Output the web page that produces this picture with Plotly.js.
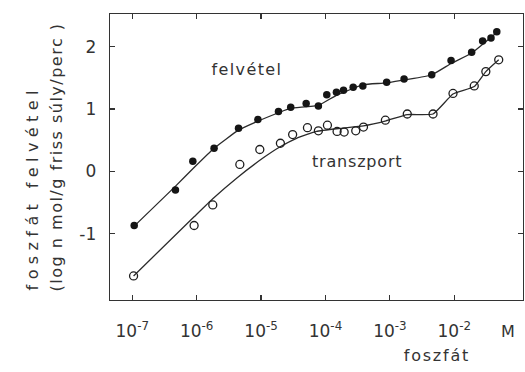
<!DOCTYPE html>
<html>
<head>
<meta charset="utf-8">
<script src="https://cdn.plot.ly/plotly-3.0.1.min.js"></script>
<style>
  html, body { margin: 0; padding: 0; background: #ffffff; }
  #chart { width: 525px; height: 372px; }
  g.annotation[data-index="0"] text { letter-spacing: 1.4px; }
  g.annotation[data-index="1"] text { letter-spacing: 0.8px; }
  g.annotation[data-index="2"] text { letter-spacing: 5.4px; }
  g.annotation[data-index="3"] text { letter-spacing: 1.5px; }
  g.annotation[data-index="5"] text { letter-spacing: 1.8px; }
</style>
</head>
<body>
<div id="chart"></div>
<script>
// log10 of phosphate concentration (M) and log uptake values
const felvetelLogC = [-6.97, -6.33, -6.06, -5.73, -5.35, -5.05, -4.73, -4.54, -4.30, -4.11, -3.98, -3.83, -3.72, -3.57, -3.42, -3.05, -2.78, -2.35, -2.05, -1.73, -1.56, -1.43, -1.34];
const felvetelVal  = [-0.87, -0.30, 0.16, 0.37, 0.69, 0.83, 0.96, 1.03, 1.09, 1.05, 1.23, 1.27, 1.30, 1.35, 1.37, 1.43, 1.48, 1.55, 1.78, 1.91, 2.09, 2.14, 2.24];

const transzportLogC = [-6.98, -6.04, -5.75, -5.33, -5.02, -4.70, -4.51, -4.28, -4.11, -3.97, -3.82, -3.71, -3.53, -3.41, -3.07, -2.73, -2.33, -2.02, -1.69, -1.51, -1.31];
const transzportVal  = [-1.68, -0.87, -0.54, 0.11, 0.35, 0.45, 0.59, 0.70, 0.65, 0.74, 0.64, 0.63, 0.65, 0.71, 0.82, 0.92, 0.92, 1.25, 1.37, 1.60, 1.79];

// fitted curves
const felvetelFitLogC = [-6.97, -6.32, -6.06, -5.73, -5.35, -5.06, -4.73, -4.55, -4.11, -3.83, -3.41, -3.05, -2.35, -2.05, -1.73, -1.34];
const felvetelFitVal  = [-0.88, -0.23, 0.04, 0.37, 0.66, 0.80, 0.94, 1.01, 1.06, 1.22, 1.39, 1.42, 1.55, 1.73, 1.90, 2.23];

const transzportFitLogC = [-6.98, -6.04, -5.75, -5.38, -4.96, -4.71, -4.45, -4.14, -3.77, -3.41, -3.06, -2.73, -2.33, -2.02, -1.69, -1.51, -1.31];
const transzportFitVal  = [-1.68, -0.73, -0.44, -0.11, 0.22, 0.39, 0.53, 0.64, 0.69, 0.73, 0.81, 0.91, 0.92, 1.24, 1.36, 1.60, 1.79];

const xTickVals = [1e-7, 1e-6, 1e-5, 1e-4, 1e-3, 1e-2];
const xTickText = ['10<sup>-7</sup>', '10<sup>-6</sup>', '10<sup>-5</sup>', '10<sup>-4</sup>', '10<sup>-3</sup>', '10<sup>-2</sup>'];
const yTickVals = [-1, 0, 1, 2];
const yTickText = ['-1', '0', '1', '2'];

const toM = a => a.map(v => Math.pow(10, v));

const ink = '#2b2b2b';
const FONT = 'DejaVu Sans, Liberation Sans, sans-serif';

const traces = [
  { x: toM(felvetelFitLogC), y: felvetelFitVal, mode: 'lines', line: { color: ink, width: 1.3, shape: 'spline', smoothing: 0.4 }, hoverinfo: 'skip', showlegend: false },
  { x: toM(transzportFitLogC), y: transzportFitVal, mode: 'lines', line: { color: ink, width: 1.3, shape: 'spline', smoothing: 0.4 }, hoverinfo: 'skip', showlegend: false },
  { x: toM(felvetelLogC), y: felvetelVal, mode: 'markers', marker: { symbol: 'circle', size: 7.5, color: '#151515' }, showlegend: false },
  { x: toM(transzportLogC), y: transzportVal, mode: 'markers', marker: { symbol: 'circle-open', size: 8, color: '#1e1e1e', line: { width: 1.3 } }, showlegend: false }
];

const axisCommon = {
  showline: true, mirror: 'all', linecolor: '#333', linewidth: 1.3,
  ticks: 'inside', ticklen: 5, tickwidth: 1.2, tickcolor: '#333',
  showgrid: false, zeroline: false
};

const layout = {
  width: 525, height: 372,
  margin: { l: 110, r: 2, t: 14, b: 72 },
  paper_bgcolor: '#ffffff', plot_bgcolor: '#ffffff',
  font: { family: FONT, color: '#333' },
  xaxis: Object.assign({}, axisCommon, {
    type: 'log', range: [-7.346, -0.933],
    tickmode: 'array', tickvals: xTickVals, ticktext: xTickText,
    tickfont: { size: 17, color: '#333' }, ticklabelstandoff: 15
  }),
  yaxis: Object.assign({}, axisCommon, {
    range: [-2.066, 2.525],
    tickmode: 'array', tickvals: yTickVals, ticktext: yTickText,
    tickfont: { size: 17, color: '#333' }, ticklabelstandoff: 9
  }),
  annotations: [
    { text: 'felvétel', xref: 'x', yref: 'y', x: -5.22, y: 1.63, showarrow: false, xanchor: 'center', yanchor: 'middle', font: { size: 16, color: '#333' } },
    { text: 'transzport', xref: 'x', yref: 'y', x: -3.51, y: 0.15, showarrow: false, xanchor: 'center', yanchor: 'middle', font: { size: 16, color: '#333' } },
    { text: 'foszfát felvétel', xref: 'paper', yref: 'paper', x: -0.186, y: (300 - 188) / 286, textangle: -90, showarrow: false, xanchor: 'center', yanchor: 'middle', font: { size: 16, color: '#333' } },
    { text: '(log n mol/g friss súly/perc )', xref: 'paper', yref: 'paper', x: -0.131, y: (300 - 157) / 286, textangle: -90, showarrow: false, xanchor: 'center', yanchor: 'middle', font: { size: 16, color: '#333' } },
    { text: 'M', xref: 'paper', yref: 'paper', x: (508 - 110) / 413, y: (300 - 331) / 286, showarrow: false, xanchor: 'center', yanchor: 'middle', font: { size: 16, color: '#333' } },
    { text: 'foszfát', xref: 'paper', yref: 'paper', x: (437 - 110) / 413, y: (300 - 355) / 286, showarrow: false, xanchor: 'center', yanchor: 'middle', font: { size: 16, color: '#333' } }
  ]
};

Plotly.newPlot('chart', traces, layout, { displayModeBar: false, staticPlot: true });
</script>
</body>
</html>
